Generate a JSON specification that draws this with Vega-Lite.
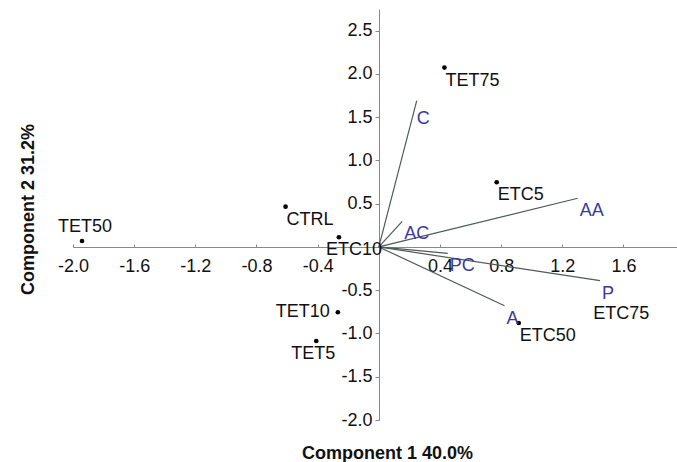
{
  "$schema": "https://vega.github.io/schema/vega-lite/v6.json",
  "width": 604,
  "height": 411,
  "autosize": {"type": "none"},
  "padding": {"left": 73, "top": 9, "right": 0, "bottom": 42},
  "background": "white",
  "config": {
    "view": {"stroke": null},
    "font": "Liberation Sans",
    "text": {"font": "Liberation Sans", "fontSize": 18}
  },
  "datasets": {
    "scores": [
      {"name": "TET50", "x": -1.941, "y": 0.069},
      {"name": "CTRL", "x": -0.610, "y": 0.466},
      {"name": "ETC10", "x": -0.261, "y": 0.112},
      {"name": "TET75", "x": 0.429, "y": 2.073},
      {"name": "ETC5", "x": 0.771, "y": 0.748},
      {"name": "ETC50", "x": 0.915, "y": -0.879},
      {"name": "TET10", "x": -0.268, "y": -0.755},
      {"name": "TET5", "x": -0.409, "y": -1.087},
      {"name": "ETC75", "x": 1.396, "y": -0.624}
    ],
    "loadings": [
      {"name": "C", "x": 0.248, "y": 1.691},
      {"name": "AC", "x": 0.153, "y": 0.295},
      {"name": "AA", "x": 1.301, "y": 0.563},
      {"name": "PC", "x": 0.451, "y": -0.074},
      {"name": "P", "x": 1.447, "y": -0.390},
      {"name": "A", "x": 0.822, "y": -0.679}
    ]
  },
  "layer": [
    {
      "data": {"name": "scores"},
      "transform": [{"filter": "datum.name !== 'ETC75'"}],
      "mark": {"type": "point", "filled": true, "color": "black", "size": 22, "opacity": 1},
      "encoding": {
        "x": {
          "field": "x", "type": "quantitative",
          "scale": {"domain": [-2, 1.95], "nice": false, "zero": false},
          "axis": {
            "offset": -173,
            "values": [-2, -1.6, -1.2, -0.8, -0.4, 0.4, 0.8, 1.2, 1.6],
            "labelExpr": "replace(format(datum.value, '.1f'), '\u2212', '-')",
            "labelFlush": false,
            "labelFont": "Liberation Sans",
            "labelFontSize": 18,
            "labelColor": "#111111",
            "labelPadding": 13,
            "tickSize": -3,
            "tickColor": "#888888",
            "domainColor": "#888888",
            "grid": false,
            "title": "Component 1 40.0%",
            "titleFont": "Liberation Sans",
            "titleFontSize": 18,
            "titleFontWeight": "bold",
            "titleColor": "#111111",
            "titleX": 314,
            "titleY": 197,
            "titleBaseline": "top",
            "titleAlign": "center"
          }
        },
        "y": {
          "field": "y", "type": "quantitative",
          "scale": {"domain": [-2, 2.75], "nice": false, "zero": false},
          "axis": {
            "offset": -306,
            "values": [-2, -1.5, -1, -0.5, 0.5, 1, 1.5, 2, 2.5],
            "labelExpr": "replace(format(datum.value, '.1f'), '\u2212', '-')",
            "labelFlush": false,
            "labelFont": "Liberation Sans",
            "labelFontSize": 18,
            "labelColor": "#111111",
            "labelPadding": 3,
            "tickSize": 4,
            "tickColor": "#888888",
            "domainColor": "#888888",
            "grid": false,
            "title": "Component 2 31.2%",
            "titleFont": "Liberation Sans",
            "titleFontSize": 18,
            "titleFontWeight": "bold",
            "titleColor": "#111111",
            "titleAngle": 270,
            "titleX": -346,
            "titleY": 200,
            "titleBaseline": "alphabetic",
            "titleAlign": "center"
          }
        }
      }
    },
    {
      "data": {"name": "loadings"},
      "mark": {"type": "rule", "color": "#4f5b58", "strokeWidth": 1.2},
      "encoding": {
        "x": {"field": "x", "type": "quantitative"},
        "y": {"field": "y", "type": "quantitative"},
        "x2": {"datum": 0},
        "y2": {"datum": 0}
      }
    },
    {
      "data": {"name": "scores"},
      "transform": [{"filter": {"field": "name", "oneOf": ["CTRL", "TET75", "ETC5", "ETC50", "ETC75"]}}],
      "mark": {"type": "text", "align": "left", "baseline": "top", "dx": 1, "dy": 4, "color": "#111111"},
      "encoding": {"x": {"field": "x", "type": "quantitative"}, "y": {"field": "y", "type": "quantitative"}, "text": {"field": "name"}}
    },
    {
      "data": {"name": "scores"},
      "transform": [{"filter": "datum.name === 'TET50'"}],
      "mark": {"type": "text", "align": "center", "baseline": "bottom", "dx": 3, "dy": -5, "color": "#111111"},
      "encoding": {"x": {"field": "x", "type": "quantitative"}, "y": {"field": "y", "type": "quantitative"}, "text": {"field": "name"}}
    },
    {
      "data": {"name": "scores"},
      "transform": [{"filter": "datum.name === 'ETC10'"}],
      "mark": {"type": "text", "align": "left", "baseline": "top", "dx": -13, "dy": 4, "color": "#111111"},
      "encoding": {"x": {"field": "x", "type": "quantitative"}, "y": {"field": "y", "type": "quantitative"}, "text": {"field": "name"}}
    },
    {
      "data": {"name": "scores"},
      "transform": [{"filter": "datum.name === 'TET10'"}],
      "mark": {"type": "text", "align": "right", "baseline": "middle", "dx": -8, "dy": 0, "color": "#111111"},
      "encoding": {"x": {"field": "x", "type": "quantitative"}, "y": {"field": "y", "type": "quantitative"}, "text": {"field": "name"}}
    },
    {
      "data": {"name": "scores"},
      "transform": [{"filter": "datum.name === 'TET5'"}],
      "mark": {"type": "text", "align": "center", "baseline": "top", "dx": -3, "dy": 4, "color": "#111111"},
      "encoding": {"x": {"field": "x", "type": "quantitative"}, "y": {"field": "y", "type": "quantitative"}, "text": {"field": "name"}}
    },
    {
      "data": {"name": "loadings"},
      "transform": [{"filter": "datum.name !== 'C'"}],
      "mark": {"type": "text", "align": "left", "baseline": "top", "dx": 2, "dy": 4, "color": "#3a3a9e"},
      "encoding": {"x": {"field": "x", "type": "quantitative"}, "y": {"field": "y", "type": "quantitative"}, "text": {"field": "name"}}
    },
    {
      "data": {"name": "loadings"},
      "transform": [{"filter": "datum.name === 'C'"}],
      "mark": {"type": "text", "align": "left", "baseline": "top", "dx": 0, "dy": 9, "color": "#3a3a9e"},
      "encoding": {"x": {"field": "x", "type": "quantitative"}, "y": {"field": "y", "type": "quantitative"}, "text": {"field": "name"}}
    }
  ]
}
